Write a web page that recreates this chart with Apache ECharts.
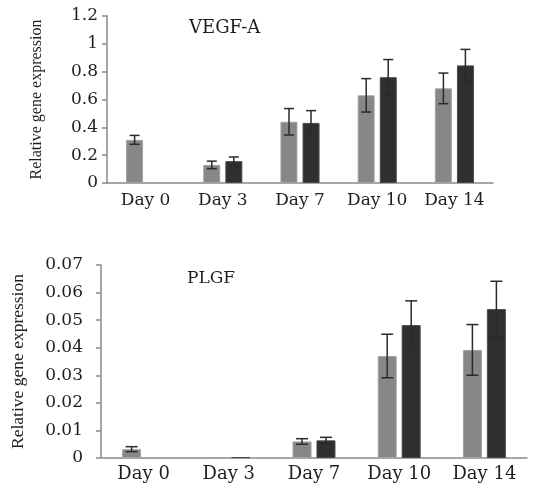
<!DOCTYPE html>
<html><head><meta charset="utf-8">
<script src="https://cdn.jsdelivr.net/npm/echarts@6/dist/echarts.min.js"></script>
<style>html,body{margin:0;padding:0;background:#fff}#c{width:539px;height:487px}</style>
</head><body><div id="c"></div>
<script>
const categories = ['Day 0', 'Day 3', 'Day 7', 'Day 10', 'Day 14'];
const vegfGray = [0.31, 0.13, 0.44, 0.63, 0.68];
const vegfGrayErr = [0.032, 0.027, 0.095, 0.12, 0.11];
const vegfDark = [null, 0.157, 0.432, 0.76, 0.845];
const vegfDarkErr = [null, 0.03, 0.088, 0.127, 0.115];
const plgfGray = [0.0032, 0.0003, 0.006, 0.037, 0.0392];
const plgfGrayErr = [0.0009, 0, 0.001, 0.0079, 0.0092];
const plgfDark = [null, 0.0003, 0.0064, 0.0482, 0.054];
const plgfDarkErr = [null, 0, 0.0011, 0.0088, 0.0101];
const vegfTicks = ['0', '0.2', '0.4', '0.6', '0.8', '1', '1.2'];
const plgfTicks = ['0', '0.01', '0.02', '0.03', '0.04', '0.05', '0.06', '0.07'];

const GRAY = '#878787', DARK = '#2f2f2f', AXIS = '#8a8a8a', TXT = '#1e1e1e';
const SERIF = 'DejaVu Serif';

function errRender(vals, errs, offset, cap) {
  return function (params, api) {
    const i = api.value(0);
    const v = vals[i], e = errs[i];
    if (v == null || !e) return null;
    const hi = api.coord([i, v + e]);
    const lo = api.coord([i, v - e]);
    const x = hi[0] + offset;
    const st = { stroke: '#2a2a2a', lineWidth: 1.5 };
    return {
      type: 'group', children: [
        { type: 'line', shape: { x1: x, y1: hi[1], x2: x, y2: lo[1] }, style: st },
        { type: 'line', shape: { x1: x - cap / 2, y1: hi[1], x2: x + cap / 2, y2: hi[1] }, style: st },
        { type: 'line', shape: { x1: x - cap / 2, y1: lo[1], x2: x + cap / 2, y2: lo[1] }, style: st }
      ]
    };
  };
}

function xAx(gi, size, margin) {
  return {
    type: 'category', gridIndex: gi, data: categories,
    axisLine: { lineStyle: { color: AXIS, width: 1.5 } },
    axisTick: { show: false },
    axisLabel: { color: TXT, fontFamily: SERIF, fontSize: size, margin: margin, interval: 0, hideOverlap: false }
  };
}
function yAx(gi, max, interval, ticks, nameGap, nameSize, labelMargin) {
  return {
    type: 'value', gridIndex: gi, min: 0, max: max, interval: interval,
    name: 'Relative gene expression', nameLocation: 'middle', nameGap: nameGap,
    nameTextStyle: { color: TXT, fontFamily: 'Liberation Serif', fontSize: nameSize },
    axisLine: { show: true, lineStyle: { color: AXIS, width: 1.5 } },
    axisTick: { show: true, length: 5, lineStyle: { color: AXIS, width: 1.5 } },
    splitLine: { show: false },
    axisLabel: {
      color: TXT, fontFamily: SERIF, fontSize: 17, margin: labelMargin,
      formatter: function (v) { return ticks[Math.round(v / interval)]; }
    }
  };
}
function bar(name, data, color, border, xi, w, gap) {
  return {
    type: 'bar', name: name, data: data, xAxisIndex: xi, yAxisIndex: xi,
    barWidth: w, barGap: gap,
    itemStyle: { color: color, borderColor: border, borderWidth: 1 }
  };
}
function err(vals, errs, offset, cap, xi) {
  return {
    type: 'custom', xAxisIndex: xi, yAxisIndex: xi, z: 10,
    data: vals.map(function (v, i) { return [i, v == null ? 0 : v]; }),
    renderItem: errRender(vals, errs, offset, cap)
  };
}

const chart = echarts.init(document.getElementById('c'));
chart.setOption({
  animation: false,
  backgroundColor: '#fff',
  title: [
    { text: 'VEGF-A', left: 184, top: 14, textStyle: { fontFamily: SERIF, fontSize: 18, fontWeight: 'normal', color: TXT } },
    { text: 'PLGF', left: 182, top: 265, textStyle: { fontFamily: SERIF, fontSize: 17, fontWeight: 'normal', color: TXT } }
  ],
  grid: [
    { left: 107, right: 46, top: 16, bottom: 304 },
    { left: 101, right: 12, top: 265, bottom: 29 }
  ],
  xAxis: [xAx(0, 17, 9), xAx(1, 18, 7)],
  yAxis: [yAx(0, 1.2, 0.2, vegfTicks, 62, 16, 9), yAx(1, 0.07, 0.01, plgfTicks, 74, 17.5, 18)],
  series: [
    bar('g1', vegfGray, GRAY, '#a3a3a3', 0, 17, '30%'),
    bar('d1', vegfDark, DARK, '#4a4a4a', 0, 17, '30%'),
    err(vegfGray, vegfGrayErr, -11, 10, 0),
    err(vegfDark, vegfDarkErr, 11, 10, 0),
    bar('g2', plgfGray, GRAY, '#a3a3a3', 1, 19, '26%'),
    bar('d2', plgfDark, DARK, '#4a4a4a', 1, 19, '26%'),
    err(plgfGray, plgfGrayErr, -12, 12, 1),
    err(plgfDark, plgfDarkErr, 12, 12, 1)
  ]
});
</script></body></html>
